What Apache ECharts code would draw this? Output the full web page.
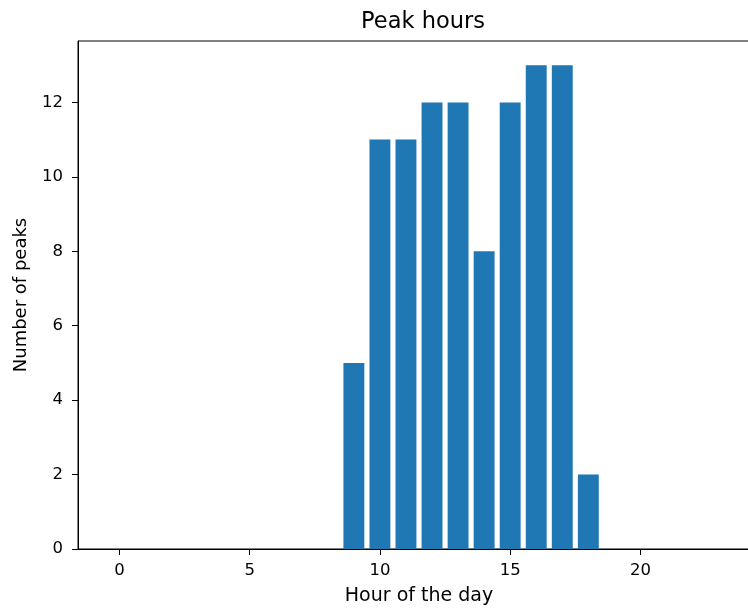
<!DOCTYPE html>
<html>
<head>
<meta charset="utf-8">
<script src="https://cdn.jsdelivr.net/npm/echarts@6/dist/echarts.min.js"></script>
<style>
  html, body { margin: 0; padding: 0; background: #fff; overflow: hidden; }
  /* the original figure is cut off on the right, so the canvas runs past the window */
  #chart { width: 760px; height: 608px; }
</style>
</head>
<body>
<div id="chart"></div>
<script>
const hours = [0, 1, 2, 3, 4, 5, 6, 7, 8, 9, 10, 11, 12, 13, 14, 15, 16, 17, 18, 19, 20, 21, 22, 23]
const peaks = [0, 0, 0, 0, 0, 0, 0, 0, 0, 5, 11, 11, 12, 12, 8, 12, 13, 13, 2, 0, 0, 0, 0, 0]
const xTicks = [0, 5, 10, 15, 20]
const yTicks = [0, 2, 4, 6, 8, 10, 12]

const font = 'DejaVu Sans'
const chart = echarts.init(document.getElementById('chart'))

chart.setOption({
    animation: false,
    title: {
        text: 'Peak hours',
        left: 418,
        top: 6,
        textAlign: 'center',
        textStyle: { fontFamily: font, fontSize: 22.5, fontWeight: 'normal', color: '#000' }
    },
    grid: {
        left: 78,
        top: 41,
        right: 0,
        bottom: 59,
        outerBoundsMode: 'none',
        show: true,
        borderColor: '#000',
        borderWidth: 1
    },
    xAxis: {
        type: 'value',
        min: -1.59,
        max: 24.59,
        name: 'Hour of the day',
        nameLocation: 'middle',
        nameGap: 38,
        nameTextStyle: { fontFamily: font, fontSize: 19, color: '#000' },
        splitLine: { show: false },
        axisLine: { onZero: false, lineStyle: { color: '#000', width: 1 } },
        axisTick: { show: true, customValues: xTicks, length: 6, lineStyle: { color: '#000' } },
        axisLabel: { customValues: xTicks, fontFamily: font, fontSize: 16.5, color: '#000', margin: 13 }
    },
    yAxis: {
        type: 'value',
        min: 0,
        max: 13.65,
        name: 'Number of peaks',
        nameLocation: 'middle',
        nameGap: 48,
        nameTextStyle: { fontFamily: font, fontSize: 18, color: '#000' },
        splitLine: { show: false },
        axisLine: { show: true, onZero: false, lineStyle: { color: '#000', width: 1 } },
        axisTick: { show: true, customValues: yTicks, length: 6, lineStyle: { color: '#000' } },
        axisLabel: { customValues: yTicks, fontFamily: font, fontSize: 16.5, color: '#000', margin: 15 }
    },
    series: [{
        type: 'bar',
        data: hours.map((h, i) => [h, peaks[i]]),
        barWidth: 20.9,
        itemStyle: { color: '#1f77b4' }
    }]
})
</script>
</body>
</html>
